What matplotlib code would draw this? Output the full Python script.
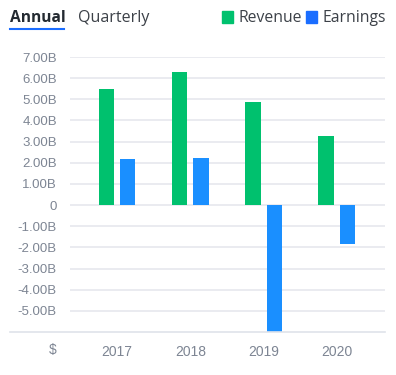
import numpy as np
import matplotlib
matplotlib.use("Agg")
import matplotlib.pyplot as plt
from matplotlib.patches import Rectangle
from matplotlib.lines import Line2D

# data (billions)
years = ["2017", "2018", "2019", "2020"]
revenue = [5.49, 6.27, 4.87, 3.25]
earnings = [2.16, 2.24, -6.0, -1.82]
yticks = [7, 6, 5, 4, 3, 2, 1, 0, -1, -2, -3, -4, -5]
ytick_labels = ["7.00B", "6.00B", "5.00B", "4.00B", "3.00B", "2.00B", "1.00B",
                "0", "-1.00B", "-2.00B", "-3.00B", "-4.00B", "-5.00B"]

green = "#00c16e"
blue = "#1a8fff"
blue_legend = "#1a6dff"
label_col = "#7d8593"
grid_col = "#e6e8ee"

W, H = 396, 375
fig = plt.figure(figsize=(W / 100, H / 100), dpi=100)
ax = fig.add_axes([70 / W, (H - 332) / H, 315 / W, (332 - 57) / H])

x = np.arange(len(years))
bw = 0.21
ax.bar(x - 0.147, revenue, bw, color=green, zorder=3)
ax.bar(x + 0.147, earnings, bw, color=blue, zorder=3)

ax.set_xlim(-0.641, 3.655)
ax.set_ylim(-6, 7)
ax.set_yticks(yticks)
ax.set_yticklabels(ytick_labels)
ax.set_xticks(x)
ax.set_xticklabels(years)
for t in yticks:
    ax.axhline(t, color=grid_col, lw=1.2, zorder=1)
for s in ax.spines.values():
    s.set_visible(False)
ax.tick_params(axis="y", length=0, labelsize=9.5, labelcolor=label_col, pad=9.4)
ax.tick_params(axis="x", length=0, labelsize=10, labelcolor=label_col, pad=9.4)
for lab in ax.get_xticklabels() + ax.get_yticklabels():
    lab.set_family("Liberation Sans")

# bottom baseline running under the "$"
fig.add_artist(Line2D([10 / W, 385 / W], [(H - 332) / H] * 2, color="#dfe3ea", lw=1.2))
fig.text(53 / W, (H - 350) / H, "$", ha="center", va="center", fontsize=10,
         color=label_col, family="Liberation Sans")

# header tabs
fig.text(10 / W, (H - 18) / H, "Annual", ha="left", va="center", fontsize=11.2,
         fontweight="bold", color="#232a31", family="Open Sans")
fig.add_artist(Line2D([10 / W, 64 / W], [(H - 29) / H] * 2, color="#1a6dff", lw=1.5))
fig.text(78 / W, (H - 18) / H, "Quarterly", ha="left", va="center", fontsize=11.5,
         color="#3c4148", family="Open Sans")

# legend
fig.add_artist(Rectangle((222 / W, (H - 23) / H), 11 / W, 12 / H, color=green,
                         transform=fig.transFigure))
fig.text(239 / W, (H - 18) / H, "Revenue", ha="left", va="center", fontsize=11.3,
         color="#3c4148", family="Open Sans")
fig.add_artist(Rectangle((306 / W, (H - 23) / H), 11 / W, 12 / H, color=blue_legend,
                         transform=fig.transFigure))
fig.text(323 / W, (H - 18) / H, "Earnings", ha="left", va="center", fontsize=11.3,
         color="#3c4148", family="Open Sans")

fig.savefig("out.png", dpi=100)
